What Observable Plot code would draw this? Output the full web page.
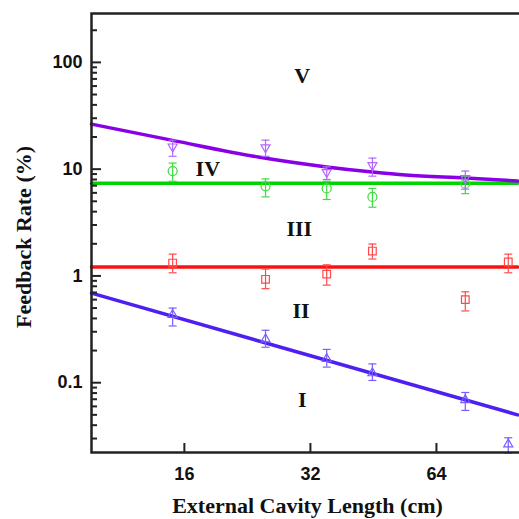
<!DOCTYPE html>
<html><head><meta charset="utf-8">
<script src="https://cdn.jsdelivr.net/npm/d3@7"></script>
<script src="https://cdn.jsdelivr.net/npm/@observablehq/plot@0.6"></script>
<style>
body{margin:0;background:#fff}
#chart{width:519px;height:519px;overflow:hidden}
#chart svg{max-width:none!important}
</style>
</head><body><div id="chart"></div>
<script>
// ---- data ----
const lenI = [15, 25, 35, 45, 75, 95];
const valI = [0.44, 0.26, 0.17, 0.125, 0.07, 0.027];
const loI  = [0.34, 0.215, 0.14, 0.105, 0.055, 0.022];
const hiI  = [0.50, 0.31, 0.205, 0.15, 0.081, 0.0305];

const lenRed = [15, 25, 35, 45, 75, 95];
const valRed = [1.32, 0.93, 1.04, 1.71, 0.6, 1.35];
const loRed  = [1.07, 0.76, 0.82, 1.44, 0.47, 1.07];
const hiRed  = [1.6, 1.16, 1.27, 1.99, 0.71, 1.6];

const lenGreen = [15, 25, 35, 45, 75];
const valGreen = [9.6, 6.9, 6.6, 5.5, 7.3];
const loGreen  = [7.7, 5.5, 5.2, 4.4, 5.9];
const hiGreen  = [11.4, 8.1, 7.7, 6.6, 8.6];

const lenV = [15, 25, 35, 45, 75];
const valV = [16.0, 15.7, 9.2, 10.7, 8.1];
const loV  = [13.2, 13.2, 8.0, 8.6, 6.5];
const hiV  = [18.7, 18.7, 10.5, 12.7, 9.6];

const fitIx = [9.6, 100];
const fitIy = [0.69, 0.05];
const fitVx = [9.6, 15, 24, 35, 45, 54, 75, 100];
const fitVy = [26.4, 18.6, 13.0, 10.5, 9.4, 8.8, 8.25, 7.75];
const fitGreenX = [9.6, 100];
const fitGreenY = [7.4, 7.4];
const fitRedX = [9.6, 100];
const fitRedY = [1.21, 1.21];

const regionText = ["V", "IV", "III", "II", "I"];
const regionX = [30.6, 18.2, 30.1, 30.4, 30.6];
const regionY = [74, 10, 2.75, 0.47, 0.069];

const xTicks = [16, 32, 64];
const yMajor = [0.1, 1, 10, 100];
const yMinor = [0.03,0.04,0.05,0.06,0.07,0.08,0.09,
  0.2,0.3,0.4,0.5,0.6,0.7,0.8,0.9,
  2,3,4,5,6,7,8,9, 20,30,40,50,60,70,80,90, 200];

const xTitle = "External Cavity Length (cm)";
const yTitle = "Feedback Rate (%)";

// ---- build ----
const W = 525, H = 519, ML = 91, MR = 2, MT = 13, MB = 67;
const innerW = W - ML - MR, innerH = H - MT - MB;

const pts = (L, v, lo, hi) => L.map((d, i) => ({L: d, v: v[i], lo: lo[i], hi: hi[i]}));
const line = (X, Y) => X.map((d, i) => ({L: d, v: Y[i]}));
const sI = pts(lenI, valI, loI, hiI);
const sR = pts(lenRed, valRed, loRed, hiRed);
const sG = pts(lenGreen, valGreen, loGreen, hiGreen);
const sV = pts(lenV, valV, loV, hiV);

const rad = size => Math.sqrt(size / Math.PI);
const capSym = {draw(c, s){ const r = rad(s); c.moveTo(-r, 0); c.lineTo(r, 0); }};
const triUp = {draw(c, s){ const r = rad(s); c.moveTo(0, -r); c.lineTo(r, r*0.75); c.lineTo(-r, r*0.75); c.closePath(); }};
const triDown = {draw(c, s){ const r = rad(s); c.moveTo(0, r); c.lineTo(r, -r*0.75); c.lineTo(-r, -r*0.75); c.closePath(); }};
const sq = {draw(c, s){ const r = rad(s)*0.85; c.moveTo(-r, -r); c.lineTo(r, -r); c.lineTo(r, r); c.lineTo(-r, r); c.closePath(); }};

function series(data, color, symbol) {
  return [
    Plot.ruleX(data, {x: "L", y1: "lo", y2: "hi", stroke: color, strokeWidth: 1.2}),
    Plot.dot(data, {x: "L", y: "lo", symbol: capSym, r: 4, stroke: color, strokeWidth: 1.2}),
    Plot.dot(data, {x: "L", y: "hi", symbol: capSym, r: 4, stroke: color, strokeWidth: 1.2}),
    Plot.dot(data, {x: "L", y: "v", symbol, r: 4.5, stroke: color, strokeWidth: 1.2, fill: "none"})
  ];
}

const serif = "'Liberation Serif', 'Times New Roman', serif";
const sans = "'Liberation Sans', Arial, sans-serif";

const chart = Plot.plot({
  width: W, height: H,
  marginLeft: ML, marginRight: MR, marginTop: MT, marginBottom: MB,
  style: {background: "#fff", overflow: "visible", maxWidth: "none"},
  x: {type: "log", base: 2, domain: [9.6, 103.3]},
  y: {type: "log", domain: [0.0222, 287]},
  marks: [
    Plot.line(line(fitGreenX, fitGreenY), {x: "L", y: "v", stroke: "#00d400", strokeWidth: 3.5}),
    Plot.line(line(fitRedX, fitRedY), {x: "L", y: "v", stroke: "#ff1010", strokeWidth: 3.5}),
    Plot.line(line(fitIx, fitIy), {x: "L", y: "v", stroke: "#4d1ff0", strokeWidth: 3.5}),
    Plot.line(line(fitVx, fitVy), {x: "L", y: "v", stroke: "#8a00e6", strokeWidth: 3.5, curve: "monotone-x"}),
    ...series(sI, "#7a5cff", triUp),
    ...series(sR, "#ff4a4a", sq),
    ...series(sG, "#3ddc3d", "circle"),
    ...series(sV, "#b266ff", triDown),
    Plot.text(regionText, {x: (d, i) => regionX[i], y: (d, i) => regionY[i], text: d => d,
      fontFamily: serif, fontWeight: "bold", fontSize: 22, fill: "#111"}),
    Plot.tickY(yMajor, {y: d => d, stroke: "#222", strokeWidth: 2, insetRight: innerW - 10}),
    Plot.tickY(yMinor, {y: d => d, stroke: "#222", strokeWidth: 2, insetRight: innerW - 6}),
    Plot.tickX(xTicks, {x: d => d, stroke: "#222", strokeWidth: 2, insetTop: innerH - 9}),
    Plot.axisY(yMajor, {tickSize: 0, tickPadding: 9, label: null, tickFormat: d => String(d),
      fontFamily: sans, fontWeight: "bold", fontSize: 18, fill: "#111"}),
    Plot.axisX(xTicks, {tickSize: 0, tickPadding: 15, label: null, tickFormat: d => String(d),
      fontFamily: sans, fontWeight: "bold", fontSize: 18, fill: "#111"}),
    Plot.frame({stroke: "#222", strokeWidth: 2.5}),
    Plot.text([xTitle], {frameAnchor: "bottom", dy: 53, lineAnchor: "middle", textAnchor: "middle", text: d => d,
      fontFamily: serif, fontWeight: "bold", fontSize: 22, fill: "#111"}),
    Plot.text([yTitle], {frameAnchor: "left", dx: -68, dy: 4, rotate: -90, textAnchor: "middle", lineAnchor: "middle",
      text: d => d, fontFamily: serif, fontWeight: "bold", fontSize: 22, fill: "#111"})
  ]
});
document.getElementById("chart").appendChild(chart);
</script>
</body></html>
